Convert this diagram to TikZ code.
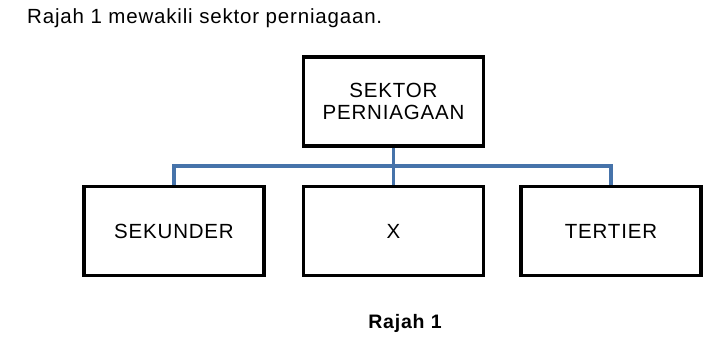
\documentclass[tikz,border=0pt]{standalone}
\usepackage{fontspec}
\setmainfont{Liberation Sans}[LetterSpace=4]
\definecolor{linkblue}{RGB}{70,115,170}
\begin{document}
\begin{tikzpicture}[x=1pt,y=1pt,
  box/.style={draw=black,line width=3.2pt,minimum width=180pt,minimum height=89pt,inner sep=0pt,align=center,font=\fontsize{20.5}{22}\selectfont},
  link/.style={draw=linkblue,line width=3.5pt}]
\useasboundingbox (0,0) rectangle (717,343);
\node[anchor=base west,inner sep=0pt,font=\fontsize{20.5}{22}\selectfont] (title) at (27,319) {Rajah 1 mewakili sektor perniagaan.};
\node[box] (top) at (393.5,241.5) {SEKTOR\\PERNIAGAAN};
\node[box] (sek) at (174,112) {SEKUNDER};
\node[box] (x) at (393.5,112) {X};
\node[box] (ter) at (611,112) {TERTIER};
\coordinate (bar) at (393.5,177);
\draw[link] (top.south) -- (x.north);
\draw[link] (sek.north) |- (bar) -| (ter.north);
\node[anchor=base,inner sep=0pt,font=\bfseries\fontsize{19.5}{22}\selectfont] (cap) at (405,15) {Rajah 1};
\end{tikzpicture}
\end{document}
